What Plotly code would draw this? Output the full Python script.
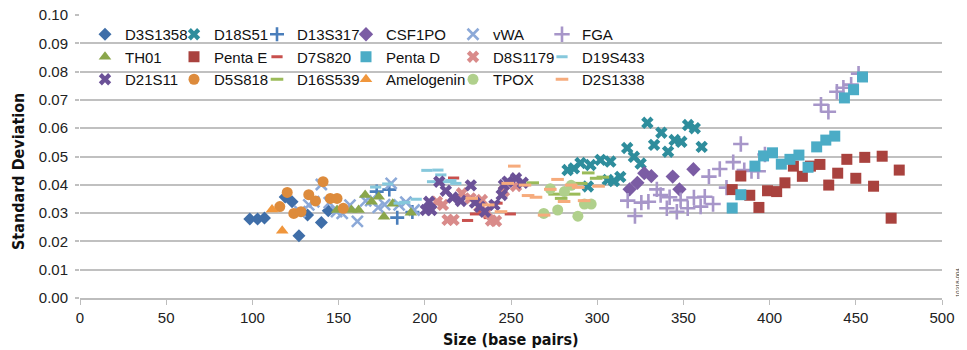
import plotly.graph_objects as go

# ---------------- data ----------------
series_names = ["D3S1358", "D18S51", "D13S317", "CSF1PO", "vWA", "FGA",
                "TH01", "Penta E", "D7S820", "Penta D", "D8S1179", "D19S433",
                "D21S11", "D5S818", "D16S539", "Amelogenin", "TPOX", "D2S1338"]

d3s1358_bp = [98.5, 103, 107, 119, 123, 127, 132, 140, 144]
d3s1358_sd = [0.0279, 0.0279, 0.0283, 0.0357, 0.034, 0.022, 0.0293, 0.0267, 0.0308]

d18s51_bp = [282.8, 286.5, 290.3, 296.1, 301.9, 307.6, 294.6, 306.1, 309.7, 313.4, 317.4,
             321.3, 325.2, 329.1, 333.0, 337.2, 341.1, 344.9, 348.8, 352.7, 356.6, 360.6]
d18s51_sd = [0.0452, 0.0458, 0.0477, 0.0470, 0.0488, 0.0482, 0.0394, 0.0417, 0.0413, 0.0428, 0.0530,
             0.0499, 0.0475, 0.0619, 0.0541, 0.0584, 0.0517, 0.0558, 0.0552, 0.0611, 0.0600, 0.0534]

d13s317_bp = [172.1, 179.4, 184.0, 192.8]
d13s317_sd = [0.0376, 0.0383, 0.0284, 0.0304]

csf1po_bp = [318.8, 323.3, 327.3, 331.4, 343.8, 347.7, 355.8]
csf1po_sd = [0.0384, 0.0407, 0.0441, 0.0431, 0.0429, 0.0384, 0.0455]

vwa_bp = [127.6, 132.7, 135.6, 140.0, 144.6, 148.8, 152.1, 156.6, 160.9, 165.7, 168.6,
          173.0, 176.7, 180.5, 185.1, 189.0, 193.8]
vwa_sd = [0.0305, 0.0329, 0.0340, 0.0401, 0.0337, 0.0305, 0.0299, 0.0328, 0.0271, 0.0343, 0.0344,
          0.0320, 0.0330, 0.0405, 0.0329, 0.0339, 0.0311]

fga_bp = [317.7, 321.9, 325.6, 329.7, 334.6, 336.8, 340.4, 342.0, 346.2, 348.4, 352.5, 356.1,
          360.0, 362.4, 364.8, 367.2, 371.1, 375.0, 378.9, 383.3, 385.3, 389.5, 393.4, 397.3,
          429.8, 434.1, 439.0, 442.8, 447.3, 451.6]
fga_sd = [0.0344, 0.0290, 0.0337, 0.0340, 0.0384, 0.0364, 0.0317, 0.0356, 0.0305, 0.0346, 0.0317, 0.0355,
          0.0323, 0.0358, 0.0429, 0.0332, 0.0456, 0.0390, 0.0480, 0.0544, 0.0452, 0.0449, 0.0448, 0.0507,
          0.0683, 0.0658, 0.0729, 0.0743, 0.0754, 0.0793]

th01_bp = [149.1, 157.4, 161.6, 165.4, 169.2, 173.3, 176.3, 181.4, 191.9]
th01_sd = [0.0311, 0.0311, 0.0311, 0.0364, 0.0340, 0.0358, 0.0287, 0.0333, 0.0301]

pentae_bp = [378.3, 383.3, 388.5, 393.8, 398.8, 404.1, 408.9, 413.8, 419.0, 423.7,
             429.2, 434.3, 439.5, 444.8, 450.0, 455.2, 460.3, 465.3, 470.5, 475.2]
pentae_sd = [0.0383, 0.0431, 0.0363, 0.0320, 0.0379, 0.0376, 0.0407, 0.0466, 0.0430, 0.0466,
             0.0472, 0.0399, 0.0441, 0.0490, 0.0423, 0.0497, 0.0395, 0.0501, 0.0282, 0.0452]

d7s820_bp = [216.7, 224.8, 229.4, 233.7, 237.4, 241.9, 249.6]
d7s820_sd = [0.0424, 0.0274, 0.0297, 0.0307, 0.0284, 0.0335, 0.0297]

pentad_bp = [378.3, 383.3, 391.5, 396.5, 401.7, 406.8, 411.8, 417.0, 422.3, 427.3,
             432.6, 437.8, 443.4, 448.7, 453.9]
pentad_sd = [0.0318, 0.0365, 0.0466, 0.0502, 0.0513, 0.0473, 0.0490, 0.0505, 0.0462, 0.0534,
             0.0558, 0.0572, 0.0707, 0.0736, 0.0781]

d8s1179_bp = [207.0, 210.5, 213.2, 216.7, 221.5, 226.5, 231.6, 233.1, 236.0, 238.4, 241.3, 245.9, 252.9]
d8s1179_sd = [0.0340, 0.0329, 0.0276, 0.0276, 0.0370, 0.0352, 0.0323, 0.0346, 0.0304, 0.0274, 0.0272, 0.0378, 0.0396]

d19s433_bp = [171.5, 178.5, 185.1, 188.4, 195.0, 201.2, 204.5, 207.6, 209.3, 213.2, 215.1, 218.0]
d19s433_sd = [0.0392, 0.0403, 0.0335, 0.0338, 0.0349, 0.0451, 0.0411, 0.0452, 0.0435, 0.0411, 0.0415, 0.0405]

d21s11_bp = [200.6, 202.5, 203.8, 208.4, 212.2, 216.1, 220.9, 226.7, 229.1, 232.0, 234.9,
             240.4, 244.6, 245.9, 248.0, 252.9, 256.8]
d21s11_sd = [0.0311, 0.0340, 0.0311, 0.0411, 0.0379, 0.0355, 0.0343, 0.0398, 0.0337, 0.0322, 0.0305,
             0.0329, 0.0364, 0.0399, 0.0411, 0.0423, 0.0407]

d5s818_bp = [115.9, 120.2, 124.0, 128.2, 132.7, 136.6, 141.0, 145.2, 149.1, 152.7]
d5s818_sd = [0.0323, 0.0373, 0.0299, 0.0305, 0.0365, 0.0343, 0.0411, 0.0352, 0.0352, 0.0317]

d16s539_bp = [262.6, 275.3, 279.1, 286.6, 290.7, 294.8, 299.4, 303.3]
d16s539_sd = [0.0407, 0.0367, 0.0352, 0.0367, 0.0405, 0.0442, 0.0423, 0.0427]

amelogenin_bp = [111.4, 117.3]
amelogenin_sd = [0.0313, 0.0238]

tpox_bp = [269.0, 272.8, 277.1, 281.0, 284.9, 288.8, 292.6, 296.5]
tpox_sd = [0.0299, 0.0386, 0.0311, 0.0376, 0.0398, 0.0289, 0.0332, 0.0332]

d2s1338_bp = [227.2, 236.8, 244.2, 248.1, 251.9, 258.1, 259.9, 264.5, 269.2, 272.8,
              277.0, 280.8, 284.9, 289.0, 292.4, 300.8]
d2s1338_sd = [0.0352, 0.0329, 0.0305, 0.0405, 0.0466, 0.0399, 0.0362, 0.0356, 0.0293, 0.0384,
              0.0419, 0.0341, 0.0399, 0.0391, 0.0344, 0.0395]

x_ticks = [0, 50, 100, 150, 200, 250, 300, 350, 400, 450, 500]
y_ticks = [0.00, 0.01, 0.02, 0.03, 0.04, 0.05, 0.06, 0.07, 0.08, 0.09, 0.10]

series_x = [d3s1358_bp, d18s51_bp, d13s317_bp, csf1po_bp, vwa_bp, fga_bp,
            th01_bp, pentae_bp, d7s820_bp, pentad_bp, d8s1179_bp, d19s433_bp,
            d21s11_bp, d5s818_bp, d16s539_bp, amelogenin_bp, tpox_bp, d2s1338_bp]
series_y = [d3s1358_sd, d18s51_sd, d13s317_sd, csf1po_sd, vwa_sd, fga_sd,
            th01_sd, pentae_sd, d7s820_sd, pentad_sd, d8s1179_sd, d19s433_sd,
            d21s11_sd, d5s818_sd, d16s539_sd, amelogenin_sd, tpox_sd, d2s1338_sd]

# ---------------- styles ----------------
# (symbol, color, size, line width)
styles = [
    ("diamond", "#3F6EA8", 10, 0),
    ("x", "#2E8D9C", 11, 0),
    ("cross-thin", "#4A7EBB", 10, 2.6),
    ("diamond", "#7B5CA4", 11, 0),
    ("x-thin", "#8CA9D8", 11, 2.6),
    ("cross-thin", "#A796C9", 11, 2.6),
    ("triangle-up", "#8AA64B", 11, 0),
    ("square", "#A9423E", 11, 0),
    ("line-ew", "#C8504D", 8, 3),
    ("square", "#4BACC6", 11, 0),
    ("x", "#D98B8A", 11, 0),
    ("line-ew", "#86C8DC", 8, 3),
    ("x", "#6B5197", 11, 0),
    ("circle", "#DD8B3C", 11, 0),
    ("line-ew", "#9BBB59", 9, 3),
    ("triangle-up", "#F0963C", 11, 0),
    ("circle", "#B0D08C", 11, 0),
    ("line-ew", "#F6AB7C", 9, 3),
]

fig = go.Figure()
for i, name in enumerate(series_names):
    sym, col, size, lw = styles[i]
    legend_id = "legend" if i % 6 == 0 else f"legend{i % 6 + 1}"
    if lw > 0:
        marker = dict(symbol=sym, size=size, color=col, line=dict(color=col, width=lw))
    else:
        marker = dict(symbol=sym, size=size, color=col, line=dict(width=0))
    fig.add_trace(go.Scatter(x=series_x[i], y=series_y[i], mode="markers", name=name,
                             marker=marker, legend=legend_id))

# The page places the figure 8px from the top-left corner of the window.
OFF = 8
W, H = 967 - OFF, 350 - OFF
PLOT_LEFT, PLOT_RIGHT, PLOT_TOP, PLOT_BOTTOM = 80, 942, 15, 298  # window pixels
L, R = PLOT_LEFT - OFF, W - (PLOT_RIGHT - OFF)
T, B = PLOT_TOP - OFF, H - (PLOT_BOTTOM - OFF)
plot_w = PLOT_RIGHT - PLOT_LEFT
plot_h = PLOT_BOTTOM - PLOT_TOP

col_markers = [110, 199, 282, 371, 478, 567]   # window px of legend symbol columns
legend_font = dict(family="Liberation Sans, Arial, sans-serif", size=15, color="#111111")
legend_top_px = 18
layout_legends = {}
for c, cx in enumerate(col_markers):
    key = "legend" if c == 0 else f"legend{c + 1}"
    layout_legends[key] = dict(
        x=(cx - 25 - PLOT_LEFT) / plot_w, xanchor="left",
        y=1 - (legend_top_px - PLOT_TOP) / plot_h, yanchor="top",
        orientation="v", bgcolor="rgba(0,0,0,0)", borderwidth=0,
        font=legend_font, itemwidth=30, tracegroupgap=0, traceorder="normal",
    )

fig.update_layout(
    width=W, height=H,
    margin=dict(l=L, r=R, t=T, b=B, autoexpand=False),
    paper_bgcolor="white", plot_bgcolor="white",
    showlegend=True,
    font=dict(family="Liberation Sans, Arial, sans-serif", size=15, color="#222222"),
    **layout_legends,
)

fig.update_xaxes(range=[0, 500], tickvals=x_ticks, ticktext=[str(v) for v in x_ticks],
                 showgrid=False, zeroline=False, showline=True, linecolor="#BDBDBD", linewidth=1.5,
                 ticks="outside", ticklen=5, tickcolor="#BDBDBD", tickwidth=1.2,
                 ticklabeloverflow="allow",
                 tickfont=dict(size=15, color="#222222"))
fig.update_yaxes(range=[0, 0.1], tickvals=y_ticks, ticktext=[f"{v:.2f}" for v in y_ticks],
                 showgrid=True, gridcolor="#C0C0C0", gridwidth=1.5, zeroline=False, showline=False,
                 ticks="outside", ticklen=4, tickcolor="#C0C0C0", tickwidth=1.5,
                 ticklabeloverflow="allow", ticklabelstandoff=4,
                 tickfont=dict(size=15, color="#222222"))

title_font = dict(family="Liberation Sans Narrow, DejaVu Sans Condensed, Arial Narrow, sans-serif",
                  size=16, color="#111111")
fig.add_annotation(text="<b>Standard Deviation</b>", textangle=-90, xref="paper", yref="paper",
                   x=0, y=(PLOT_BOTTOM - 172) / plot_h, xanchor="center", yanchor="middle",
                   xshift=19 - PLOT_LEFT, showarrow=False, font=title_font)
fig.add_annotation(text="<b>Size (base pairs)</b>", xref="paper", yref="paper",
                   x=0.5, y=0, xanchor="center", yanchor="middle", yshift=-(339 - PLOT_BOTTOM),
                   showarrow=False, font=title_font)
fig.add_annotation(text="10318-004", textangle=-90, xref="paper", yref="paper",
                   x=1, y=(PLOT_BOTTOM - 283) / plot_h, xanchor="center", yanchor="middle",
                   xshift=958 - PLOT_RIGHT, showarrow=False,
                   font=dict(family="Liberation Sans, Arial", size=6, color="#333333"))

fig.write_html("out.html")
